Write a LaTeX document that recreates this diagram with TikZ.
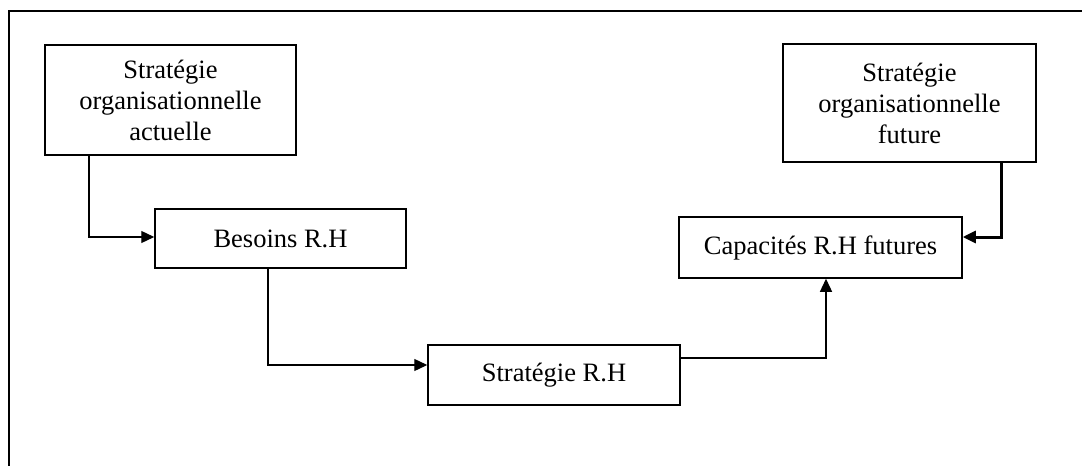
\documentclass[tikz,border=0pt]{standalone}
\usepackage{fontspec}
\setmainfont{Liberation Serif}
\usetikzlibrary{arrows.meta}
\begin{document}
\begin{tikzpicture}[x=1pt,y=-1pt,
  box/.style={draw=black,line width=1.5pt,fill=white,inner sep=0pt,
    align=center,font=\fontsize{26.5pt}{31pt}\selectfont},
  link/.style={draw=black,line width=1.3pt,-{Triangle[length=13pt,width=12pt]}},
  heavylink/.style={link,line width=3pt},
  frame/.style={draw=black,line width=2pt}]
\useasboundingbox (0,0) rectangle (1082,466);
% outer frame (left and top edges)
\draw[frame] (9,466) -- (9,11) -- (1082,11);
% boxes
\node[box,minimum width=251pt,minimum height=110pt] (cur) at (170.5,100)
  {Stratégie\\organisationnelle\\actuelle};
\node[box,minimum width=253pt,minimum height=118pt] (fut) at (909.5,103)
  {Stratégie\\organisationnelle\\future};
\node[box,minimum width=251pt,minimum height=59pt] (bes) at (280.5,238.5)
  {Besoins R.H};
\node[box,minimum width=283pt,minimum height=61pt] (cap) at (820.5,247.5)
  {Capacités R.H futures};
\node[box,minimum width=252pt,minimum height=60pt] (srh) at (554,375)
  {Stratégie R.H};
% bend points of the connectors
\coordinate (k1) at (89,237);
\coordinate (k2) at (268,365);
\coordinate (k3) at (826,358);
\coordinate (k4) at (1001,237);
% connectors
\draw[link] (k1 |- cur.south) |- (bes.west |- k1);
\draw[link] (k2 |- bes.south) |- (srh.west |- k2);
\draw[link] (srh.east |- k3) -| (k3 |- cap.south);
\draw[heavylink] (k4 |- fut.south) |- (cap.east |- k4);
\end{tikzpicture}
\end{document}
